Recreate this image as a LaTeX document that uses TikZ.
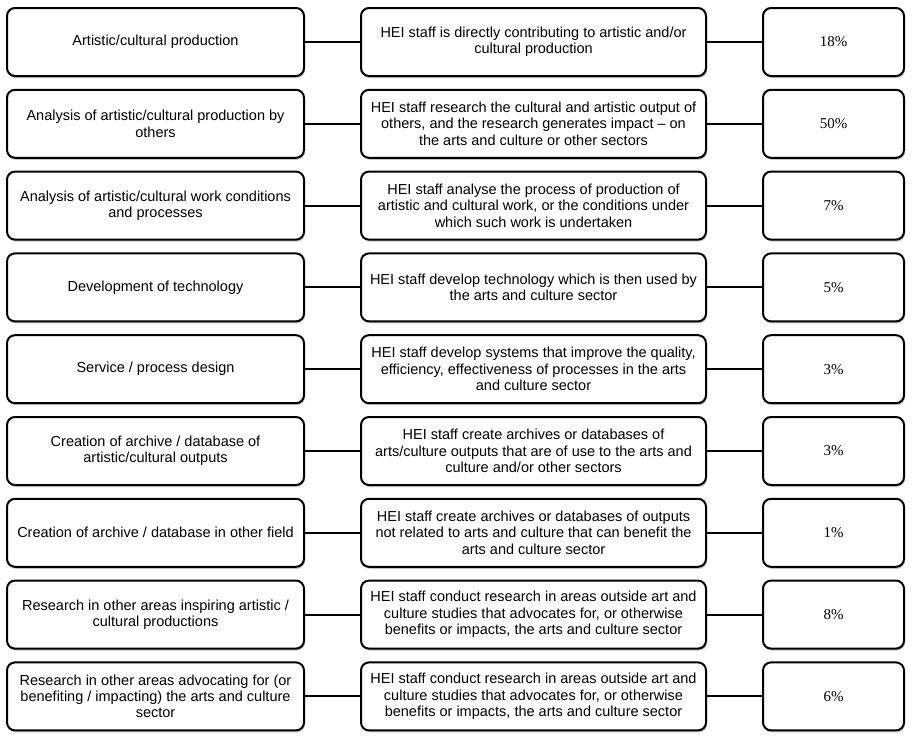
\documentclass[tikz,border=0pt]{standalone}
\usepackage{fontspec}
\setmainfont{Liberation Sans}
\newfontfamily\pctfont{Liberation Serif}
\usetikzlibrary{positioning,shadows}

\begin{document}
\begin{tikzpicture}[
    x=1pt, y=1pt,
    node distance=11.8pt and 55pt,
    catbox/.style={
      rectangle, rounded corners=8pt, draw=black, line width=2pt,
      fill=white, minimum width=297pt, minimum height=68pt,
      inner sep=1pt, align=center,
      font=\fontsize{14.5}{16.4}\selectfont,
      drop shadow={shadow xshift=1pt, shadow yshift=-2pt, fill=black!45, opacity=0.5}
    },
    descbox/.style={catbox, minimum width=345pt},
    pctbox/.style={catbox, minimum width=141pt,
      font=\pctfont\fontsize{15}{16.4}\selectfont},
    link/.style={line width=2pt, black}
  ]
  \useasboundingbox (0,0) rectangle (912,-740);

  % --- Impact types (left column) ---
  \node[catbox] (L1) at (155.5,-42) {Artistic/cultural production};
  \node[catbox, below=of L1] (L2) {Analysis of artistic/cultural production by\\others};
  \node[catbox, below=of L2] (L3) {Analysis of artistic/cultural work conditions\\and processes};
  \node[catbox, below=of L3] (L4) {Development of technology};
  \node[catbox, below=of L4] (L5) {Service / process design};
  \node[catbox, below=of L5] (L6) {Creation of archive / database of\\artistic/cultural outputs};
  \node[catbox, below=of L6] (L7) {Creation of archive / database in other field};
  \node[catbox, below=of L7] (L8) {Research in other areas inspiring artistic /\\cultural productions};
  \node[catbox, below=of L8] (L9) {Research in other areas advocating for (or\\benefiting / impacting) the arts and culture\\sector};

  % --- Descriptions (middle column) ---
  \node[descbox, right=of L1] (M1) {HEI staff is directly contributing to artistic and/or\\cultural production};
  \node[descbox, right=of L2] (M2) {HEI staff research the cultural and artistic output of\\others, and the research generates impact -- on\\the arts and culture or other sectors};
  \node[descbox, right=of L3] (M3) {HEI staff analyse the process of production of\\artistic and cultural work, or the conditions under\\which such work is undertaken};
  \node[descbox, right=of L4] (M4) {HEI staff develop technology which is then used by\\the arts and culture sector};
  \node[descbox, right=of L5] (M5) {HEI staff develop systems that improve the quality,\\efficiency, effectiveness of processes in the arts\\and culture sector};
  \node[descbox, right=of L6] (M6) {HEI staff create archives or databases of\\arts/culture outputs that are of use to the arts and\\culture and/or other sectors};
  \node[descbox, right=of L7] (M7) {HEI staff create archives or databases of outputs\\not related to arts and culture that can benefit the\\arts and culture sector};
  \node[descbox, right=of L8] (M8) {HEI staff conduct research in areas outside art and\\culture studies that advocates for, or otherwise\\benefits or impacts, the arts and culture sector};
  \node[descbox, right=of L9] (M9) {HEI staff conduct research in areas outside art and\\culture studies that advocates for, or otherwise\\benefits or impacts, the arts and culture sector};

  % --- Shares (right column) ---
  \node[pctbox, right=of M1] (P1) {18\%};
  \node[pctbox, right=of M2] (P2) {50\%};
  \node[pctbox, right=of M3] (P3) {7\%};
  \node[pctbox, right=of M4] (P4) {5\%};
  \node[pctbox, right=of M5] (P5) {3\%};
  \node[pctbox, right=of M6] (P6) {3\%};
  \node[pctbox, right=of M7] (P7) {1\%};
  \node[pctbox, right=of M8] (P8) {8\%};
  \node[pctbox, right=of M9] (P9) {6\%};

  % --- Links ---
  \draw[link] (L1) -- (M1) (M1) -- (P1);
  \draw[link] (L2) -- (M2) (M2) -- (P2);
  \draw[link] (L3) -- (M3) (M3) -- (P3);
  \draw[link] (L4) -- (M4) (M4) -- (P4);
  \draw[link] (L5) -- (M5) (M5) -- (P5);
  \draw[link] (L6) -- (M6) (M6) -- (P6);
  \draw[link] (L7) -- (M7) (M7) -- (P7);
  \draw[link] (L8) -- (M8) (M8) -- (P8);
  \draw[link] (L9) -- (M9) (M9) -- (P9);
\end{tikzpicture}
\end{document}
